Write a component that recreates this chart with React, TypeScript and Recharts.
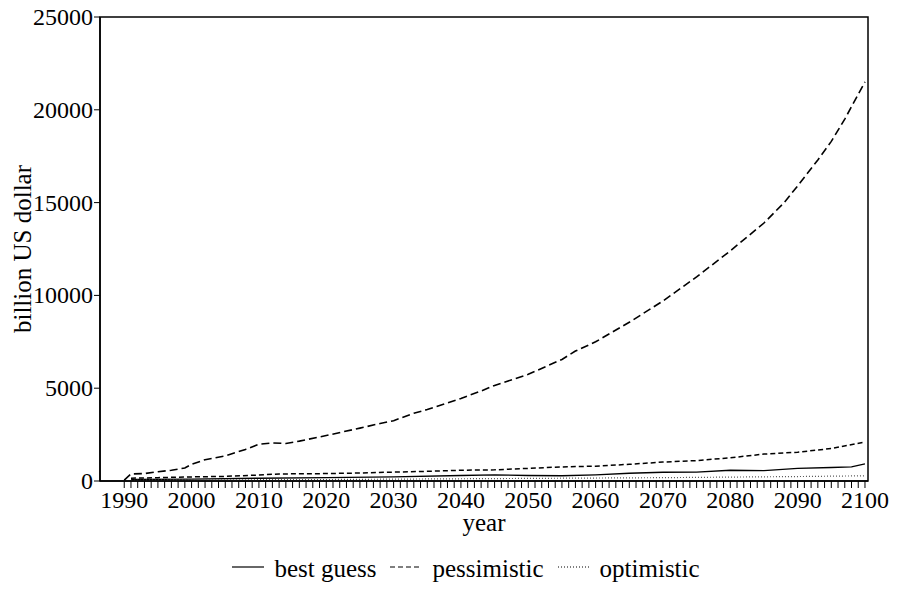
import React from "react";
import {
  LineChart,
  Line,
  XAxis,
  YAxis,
  Legend,
  ReferenceArea,
} from "recharts";

// pessimistic scenario (upper curve)
const pessYears = [
  1990, 1991, 1993, 1995, 1997, 1999, 2000, 2002, 2005, 2008, 2010, 2012, 2014,
  2016, 2020, 2025, 2028, 2030, 2033, 2035, 2040, 2043, 2045, 2050, 2055, 2057,
  2060, 2065, 2070, 2075, 2080, 2085, 2088, 2090, 2093, 2095, 2097, 2100,
];
const pessValues = [
  50, 380, 400, 500, 580, 700, 900, 1150, 1350, 1700, 1980, 2050, 2020, 2150,
  2450, 2850, 3100, 3250, 3650, 3850, 4450, 4850, 5150, 5750, 6550, 7000, 7500,
  8550, 9700, 11000, 12400, 13900, 15000, 15900, 17300, 18300, 19500, 21500,
];

// second dashed curve (no legend entry in the original)
const lowYears = [
  1991, 1995, 2000, 2005, 2010, 2013, 2020, 2025, 2030, 2035, 2040, 2045, 2050,
  2055, 2060, 2065, 2070, 2075, 2080, 2085, 2090, 2095, 2100,
];
const lowValues = [
  150, 180, 220, 250, 320, 380, 400, 430, 480, 520, 580, 600, 680, 760, 800,
  900, 1020, 1100, 1250, 1450, 1550, 1750, 2100,
];

// best guess
const bestYears = [
  1991, 2000, 2010, 2020, 2030, 2040, 2045, 2050, 2055, 2060, 2065, 2070, 2075,
  2080, 2085, 2090, 2095, 2098, 2100,
];
const bestValues = [
  80, 100, 150, 180, 220, 300, 330, 300, 280, 330, 420, 470, 480, 580, 560, 680,
  730, 760, 920,
];

// optimistic
const optYears = [1991, 2000, 2010, 2020, 2030, 2040, 2050, 2060, 2070, 2080, 2090, 2100];
const optValues = [40, 50, 70, 80, 100, 120, 140, 160, 180, 210, 240, 280];

const yearTicks: number[] = [];
for (let y = 1990; y <= 2100; y++) yearTicks.push(y);
const valueTicks = [0, 5000, 10000, 15000, 20000, 25000];

const toData = (years: number[], values: number[]) =>
  years.map((year, i) => ({ year, value: values[i] }));

const pessData = toData(pessYears, pessValues);
const lowData = toData(lowYears, lowValues);
const bestData = toData(bestYears, bestValues);
const optData = toData(optYears, optValues);

const FONT = "Liberation Serif, DejaVu Serif, Times New Roman, serif";

const legendItems = [
  { label: "best guess", dash: "" },
  { label: "pessimistic", dash: "5 3" },
  { label: "optimistic", dash: "1 2" },
];

const renderLegend = () => (
  <div
    style={{
      display: "flex",
      justifyContent: "center",
      alignItems: "center",
      fontFamily: FONT,
      fontSize: 25,
      marginTop: 4,
      paddingLeft: 78,
    }}
  >
    {legendItems.map((item) => (
      <div key={item.label} style={{ display: "flex", alignItems: "center", marginRight: 14 }}>
        <svg width={32} height={10} style={{ marginRight: 10 }}>
          <line
            x1={0}
            y1={3}
            x2={32}
            y2={3}
            stroke="#000"
            strokeWidth={1.2}
            strokeDasharray={item.dash || undefined}
          />
        </svg>
        <span>{item.label}</span>
      </div>
    ))}
  </div>
);

const XTick = (props: any) => {
  const { x, y, payload } = props;
  if (payload.value % 10 !== 0) return <g />;
  return (
    <text
      x={x}
      y={y + 18}
      textAnchor="middle"
      fill="#000"
      fontSize={24}
      fontFamily={FONT}
    >
      {payload.value}
    </text>
  );
};

const YTick = (props: any) => {
  const { x, y, payload } = props;
  return (
    <text
      x={x}
      y={y + 8}
      textAnchor="end"
      fill="#000"
      fontSize={24}
      fontFamily={FONT}
    >
      {payload.value}
    </text>
  );
};

const App: React.FC = () => {
  return (
    <div style={{ position: "absolute", left: 0, top: 0, background: "#fff" }}>
      <LineChart
        width={897}
        height={611}
        margin={{ top: 17, right: 29, left: 0, bottom: 0 }}
        style={{ fontFamily: FONT }}
      >
        <XAxis
          dataKey="year"
          type="number"
          domain={[1986.4, 2100.45]}
          ticks={yearTicks}
          interval={0}
          allowDuplicatedCategory={false}
          tick={<XTick />}
          tickSize={7}
          tickLine={{ stroke: "#000" }}
          axisLine={{ stroke: "#000", strokeWidth: 1.5 }}
          height={70}
          label={{
            value: "year",
            position: "insideBottom",
            offset: 20,
            fill: "#000",
            fontSize: 25,
            fontFamily: FONT,
          }}
        />
        <YAxis
          type="number"
          domain={[0, 25000]}
          ticks={valueTicks}
          interval={0}
          width={100}
          tick={<YTick />}
          tickSize={6}
          tickMargin={1}
          tickLine={{ stroke: "#000" }}
          axisLine={{ stroke: "#000", strokeWidth: 1.5 }}
          label={{
            value: "billion US dollar",
            angle: -90,
            position: "insideLeft",
            offset: 22,
            style: { textAnchor: "middle" },
            fill: "#000",
            fontSize: 25,
            fontFamily: FONT,
          }}
        />
        <ReferenceArea
          x1={1986.4}
          x2={2100.45}
          y1={0}
          y2={25000}
          fill="none"
          stroke="#000"
          strokeWidth={1.5}
        />
        <Line
          data={pessData}
          dataKey="value"
          stroke="#000"
          strokeWidth={1.6}
          strokeDasharray="8 4"
          dot={false}
          isAnimationActive={false}
          legendType="none"
        />
        <Line
          data={lowData}
          dataKey="value"
          stroke="#000"
          strokeWidth={1.5}
          strokeDasharray="5 3"
          dot={false}
          isAnimationActive={false}
          legendType="none"
        />
        <Line
          data={bestData}
          dataKey="value"
          stroke="#000"
          strokeWidth={1.4}
          dot={false}
          isAnimationActive={false}
          legendType="none"
        />
        <Line
          data={optData}
          dataKey="value"
          stroke="#555"
          strokeWidth={1.2}
          strokeDasharray="1 2"
          dot={false}
          isAnimationActive={false}
          legendType="none"
        />
        <Legend verticalAlign="bottom" height={60} content={renderLegend} />
      </LineChart>
    </div>
  );
};

export default App;
